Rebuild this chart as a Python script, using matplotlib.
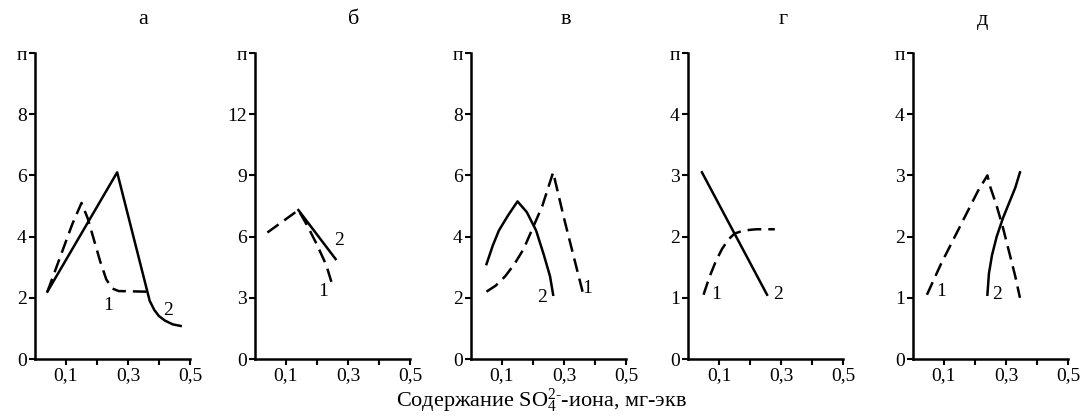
import matplotlib.pyplot as plt
import numpy as np

plt.rcParams['font.family'] = ['Liberation Serif', 'DejaVu Serif']
plt.rcParams['font.size'] = 14
plt.rcParams['mathtext.fontset'] = 'custom'
plt.rcParams['mathtext.rm'] = 'Liberation Serif'
plt.rcParams['mathtext.it'] = 'Liberation Serif:italic'

# panel letters and y-axis limits / ticks
titles = ['а', 'б', 'в', 'г', 'д']
ytops = [10, 15, 10, 5, 5]
ystep = [2, 3, 2, 1, 1]

# curve 1 (dashed) and curve 2 (solid) for each panel
c1_x = [
    [0.04, 0.08, 0.12, 0.15, 0.17, 0.19, 0.21, 0.23, 0.25, 0.27, 0.36],
    [0.04, 0.14, 0.17, 0.20, 0.23, 0.25],
    [0.05, 0.08, 0.11, 0.14, 0.17, 0.20, 0.23, 0.265, 0.30, 0.33, 0.36],
    [0.05, 0.07, 0.09, 0.11, 0.13, 0.15, 0.18, 0.22, 0.28],
    [0.045, 0.09, 0.14, 0.18, 0.21, 0.24, 0.25, 0.27, 0.29, 0.31, 0.33, 0.345],
]
c1_y = [
    [2.2, 3.3, 4.4, 5.1, 4.6, 3.9, 3.2, 2.6, 2.3, 2.22, 2.2],
    [6.2, 7.3, 6.5, 5.6, 4.6, 3.6],
    [2.2, 2.4, 2.7, 3.1, 3.6, 4.3, 5.0, 6.1, 4.6, 3.4, 2.2],
    [1.05, 1.35, 1.6, 1.8, 1.95, 2.05, 2.1, 2.12, 2.12],
    [1.05, 1.55, 2.05, 2.45, 2.75, 3.0, 2.8, 2.5, 2.15, 1.75, 1.35, 1.0],
]
c2_x = [
    [0.04, 0.265, 0.36, 0.37, 0.385, 0.40, 0.42, 0.445, 0.47],
    [0.14, 0.26],
    [0.05, 0.07, 0.09, 0.12, 0.15, 0.18, 0.21, 0.235, 0.255, 0.265],
    [0.045, 0.255],
    [0.24, 0.245, 0.255, 0.27, 0.29, 0.31, 0.33, 0.345],
]
c2_y = [
    [2.2, 6.1, 2.3, 1.9, 1.6, 1.4, 1.25, 1.13, 1.08],
    [7.3, 4.9],
    [3.1, 3.7, 4.2, 4.7, 5.15, 4.8, 4.2, 3.4, 2.7, 2.1],
    [3.05, 1.05],
    [1.05, 1.4, 1.7, 2.0, 2.3, 2.55, 2.8, 3.05],
]
# positions of the "1" and "2" labels
lab1 = [(0.235, 1.75), (0.22, 3.3), (0.375, 2.3), (0.09, 1.05), (0.09, 1.1)]
lab2 = [(0.43, 1.6), (0.27, 5.8), (0.23, 2.0), (0.29, 1.05), (0.27, 1.05)]

fig = plt.figure(figsize=(10.82, 4.18), dpi=100)
lefts = [35, 255, 471, 688, 913]
title_x = [143, 354, 566, 783, 983]

for i in range(5):
    ax = fig.add_axes([lefts[i] / 1082, 59 / 418, 155 / 1082, 306 / 418])
    ax.plot(c1_x[i], c1_y[i], color='black', lw=1.8, ls=(0, (5.5, 2.8)))
    ax.plot(c2_x[i], c2_y[i], color='black', lw=1.8)
    ax.text(*lab1[i], '1', ha='center', va='center', fontsize=14)
    ax.text(*lab2[i], '2', ha='center', va='center', fontsize=14)

    ax.set_xlim(0, 0.5)
    ax.set_ylim(0, ytops[i])
    ax.set_xticks([0.1, 0.2, 0.3, 0.4, 0.5])
    ax.set_xticklabels(['0,1', '', '0,3', '', '0,5'])
    yt = np.arange(0, ytops[i] + 0.1, ystep[i])
    ax.set_yticks(yt)
    ax.set_yticklabels([str(int(v)) for v in yt[:-1]] + ['п'])
    ax.spines['top'].set_visible(False)
    ax.spines['right'].set_visible(False)
    ax.spines['left'].set_linewidth(1.8)
    ax.spines['bottom'].set_linewidth(1.8)
    ax.tick_params(direction='out', length=4, width=1.5, labelsize=14, pad=2)
    ax.patch.set_alpha(0)
    fig.text(title_x[i] / 1082, 1 - 20 / 418, titles[i], ha='center', va='center', fontsize=16)

fig.text(0.5, 1 - 401 / 418, 'Содержание SO$_4^{2\\text{-}}$-иона, мг-экв',
         ha='center', va='center', fontsize=16)

plt.savefig('out.png', dpi=100)
